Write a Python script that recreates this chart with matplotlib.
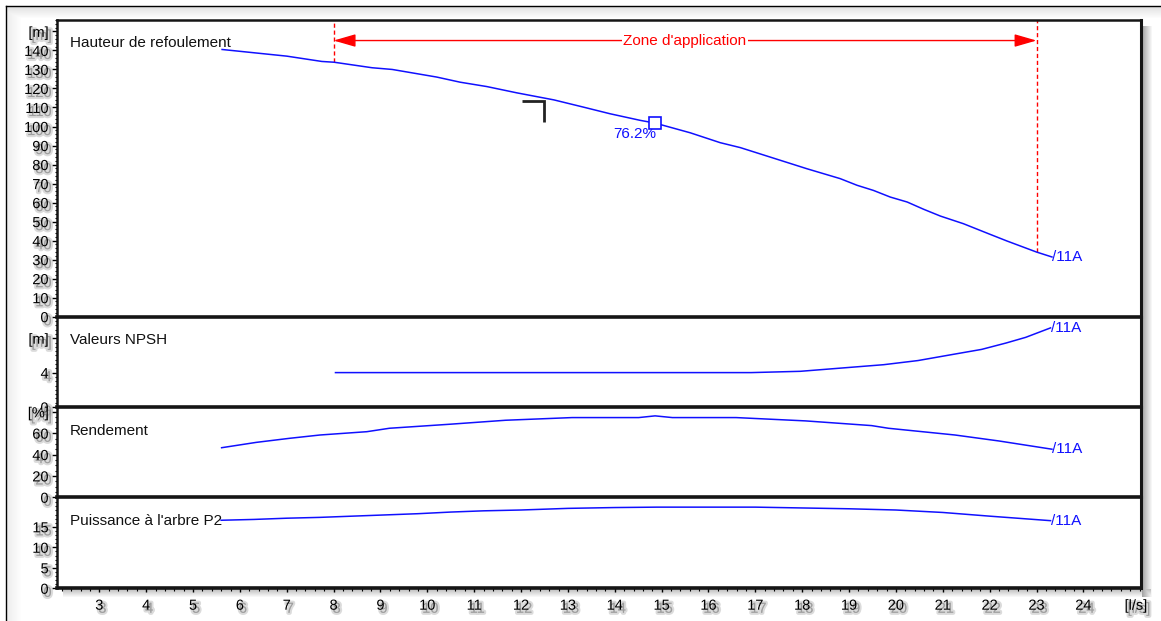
import numpy as np
import matplotlib
matplotlib.use("Agg")
import matplotlib.pyplot as plt
from matplotlib import patheffects as pe
from matplotlib.ticker import MultipleLocator, FixedLocator

# ---------------- data ----------------
flow_head = [5.62, 6.29, 7.00, 7.75, 8.01, 8.82, 9.25, 10.20, 10.70, 11.27, 11.91, 12.70,
             13.33, 13.90, 14.55, 14.86, 15.61, 16.25, 16.68, 17.32, 18.10, 18.81, 19.17,
             19.52, 19.88, 20.24, 20.59, 20.95, 21.44, 22.01, 22.37, 23.00, 23.33]
head = [140.5, 138.8, 137.0, 134.2, 133.8, 130.9, 130.0, 126.0, 123.3, 121.0, 117.7, 114.0,
        110.2, 106.7, 103.2, 101.8, 96.7, 91.5, 88.9, 83.9, 77.8, 72.6, 69.1,
        66.4, 62.9, 60.3, 56.5, 52.9, 48.9, 43.3, 39.8, 34.0, 31.4]

flow_npsh = [8.04, 16.91, 17.96, 19.74, 20.47, 21.20, 21.83, 22.35, 22.77, 23.30]
npsh = [4.0, 4.0, 4.15, 4.92, 5.4, 6.1, 6.7, 7.44, 8.1, 9.2]

flow_eta = [5.61, 6.35, 7.06, 7.71, 8.71, 9.19, 10.49, 11.67, 13.09, 14.51, 14.86, 15.23,
            16.59, 18.07, 19.48, 19.84, 20.90, 21.26, 22.20, 23.33]
eta = [46.4, 51.4, 55.2, 58.3, 61.4, 64.6, 68.4, 72.1, 74.6, 74.6, 76.2, 74.6,
       74.6, 71.5, 67.1, 64.6, 59.9, 58.3, 52.7, 45.0]

flow_p2 = [5.6, 6.3, 7.0, 7.7, 8.4, 9.1, 9.8, 10.5, 11.2, 12.0, 13.0, 14.0, 14.9, 16.0,
           17.0, 18.0, 19.0, 20.0, 21.0, 22.0, 23.3]
p2 = [16.6, 16.8, 17.1, 17.3, 17.6, 17.9, 18.2, 18.6, 18.9, 19.1, 19.5, 19.7, 19.8, 19.8,
      19.8, 19.6, 19.4, 19.1, 18.5, 17.6, 16.5]

zone_start, zone_end = 8.0, 23.0
zone_label = "Zone d'application"
zone_arrow_head = 145.2
bep_flow, bep_head, bep_eta = 14.86, 101.8, 76.2
duty_x = [12.03, 12.5, 12.5]
duty_y = [113.2, 113.2, 102.2]
curve_name = "/11A"

x_ticks = list(range(3, 25))
panel_titles = ["Hauteur de refoulement", "Valeurs NPSH", "Rendement", "Puissance à l'arbre P2"]
head_ticks = list(range(0, 160, 10))
head_labels = [str(v) for v in range(0, 150, 10)] + ["[m]"]
npsh_ticks = [0, 4, 8]
npsh_labels = ["0", "4", "[m]"]
eta_ticks = [0, 20, 40, 60, 80]
eta_labels = ["0", "20", "40", "60", "[%]"]
p2_ticks = [0, 5, 10, 15]
p2_labels = ["0", "5", "10", "15"]

# ---------------- figure ----------------
W, H = 1161, 621
plt.rcParams['font.family'] = ['Liberation Sans', 'DejaVu Sans']
fig = plt.figure(figsize=(W / 100, H / 100), dpi=100)

# background with bevel and drop shadow
bg = fig.add_axes([0, 0, 1, 1], zorder=-10)
bg.axis('off')
yy, xx = np.mgrid[0:H, 0:W]
top = np.clip(1 - (yy - 7) / 11.0, 0, 1)
left = np.clip(1 - (xx - 7) / 14.0, 0, 1) * 0.6
shade = np.maximum(top, left) * 0.11
rs = np.clip(1 - (xx - 1142) / 10.0, 0, 1) * ((xx >= 1142) & (yy >= 26) & (yy <= 596)) * 0.35
bs = np.clip(1 - (yy - 589) / 8.0, 0, 1) * ((yy >= 589) & (xx >= 63) & (xx <= 1150)) * 0.25
shade = np.maximum(shade, np.maximum(rs, bs))
img = 1 - shade
img[(yy < 7) | (xx < 7)] = 1
bg.imshow(np.dstack([img] * 3), extent=(0, W, H, 0), aspect='auto', interpolation='bilinear')
bg.set_xlim(0, W)
bg.set_ylim(H, 0)
bg.plot([6, W], [6, 6], color='black', lw=1.0)
bg.plot([6, 6], [6, H], color='black', lw=1.0)


def rect(x0, y0, x1, y1):
    return [x0 / W, 1 - y1 / H, (x1 - x0) / W, (y1 - y0) / H]


axH = fig.add_axes(rect(57, 20, 1141, 316.7))
axN = fig.add_axes(rect(57, 316.7, 1141, 407), sharex=axH)
axE = fig.add_axes(rect(57, 407, 1141, 497.3), sharex=axH)
axP = fig.add_axes(rect(57, 497.3, 1141, 588.3), sharex=axH)
axes = [axH, axN, axE, axP]
for ax in axes:
    ax.set_facecolor('none')

blue = '#1010ff'
red = '#ff0000'
shadow_fx = [pe.Stroke(offset=(2.2, -2.2), linewidth=3.0, foreground='#b8b8b8', alpha=0.5),
             pe.SimplePatchShadow(offset=(2.2, -2.2), shadow_rgbFace='#a0a0a0', alpha=0.5),
             pe.Normal()]

axH.set_xlim(2.097, 25.23)
axH.set_ylim(0, 156)
axN.set_ylim(0, 10.5)
axE.set_ylim(0, 84.5)
axP.set_ylim(0, 22.2)

settings = [(axH, head_ticks, head_labels, 2),
            (axN, npsh_ticks, npsh_labels, 0.5),
            (axE, eta_ticks, eta_labels, 5),
            (axP, p2_ticks, p2_labels, 1)]
for ax, tks, lbls, minor in settings:
    ax.yaxis.set_major_locator(FixedLocator(tks))
    ax.set_yticklabels(lbls)
    ax.yaxis.set_minor_locator(MultipleLocator(minor))
    ax.tick_params(axis='y', which='major', direction='out', length=3.5, width=1.0,
                   pad=2.5, labelsize=10.5)
    ax.tick_params(axis='y', which='minor', direction='out', length=1.8, width=0.8)
    for sp in ax.spines.values():
        sp.set_color('#151515')
    ax.spines['left'].set_linewidth(1.8)
    ax.spines['right'].set_linewidth(2.2)
    ax.spines['top'].set_linewidth(1.8)
    ax.spines['bottom'].set_linewidth(2.6)
    for lbl in ax.get_yticklabels():
        lbl.set_path_effects(shadow_fx)

for ax in [axH, axN, axE]:
    ax.tick_params(axis='x', which='both', length=0, labelbottom=False)
for ax in [axN, axE, axP]:
    ax.spines['top'].set_visible(False)

axP.xaxis.set_major_locator(FixedLocator(x_ticks))
axP.xaxis.set_minor_locator(MultipleLocator(0.2))
axP.tick_params(axis='x', which='major', direction='out', length=3, width=1.0, pad=4.5,
                labelsize=10.5)
axP.tick_params(axis='x', which='minor', direction='out', length=1.8, width=0.8)
for lbl in axP.get_xticklabels():
    lbl.set_path_effects(shadow_fx)
axP.annotate('[l/s]', xy=(0.9954, 0), xycoords='axes fraction', xytext=(0, -7.5),
             textcoords='offset points', ha='center', va='top', fontsize=10.5,
             path_effects=shadow_fx)

# curves
axH.plot(flow_head, head, color=blue, lw=1.1, zorder=3)
axN.plot(flow_npsh, npsh, color=blue, lw=1.1, zorder=3)
axE.plot(flow_eta, eta, color=blue, lw=1.1, zorder=3)
axP.plot(flow_p2, p2, color=blue, lw=1.1, zorder=3)

for ax, fx, fy in [(axH, flow_head, head), (axN, flow_npsh, npsh),
                   (axE, flow_eta, eta), (axP, flow_p2, p2)]:
    ax.text(fx[-1], fy[-1], curve_name, color=blue, fontsize=11, ha='left', va='center',
            zorder=4)

# panel titles
title_y = [0.922, 0.742, 0.734, 0.74]
for ax, t, ty in zip(axes, panel_titles, title_y):
    ax.text(0.012, ty, t, transform=ax.transAxes, fontsize=11, ha='left', va='center',
            color='#111111', zorder=2)

# zone d'application
ytop = axH.get_ylim()[1]
for zx in (zone_start, zone_end):
    hz = np.interp(zx, flow_head, head)
    axH.plot([zx, zx], [hz, ytop], color=red, lw=1.0, ls=(0, (3, 2)), zorder=2)
axH.annotate('', xy=(zone_start, zone_arrow_head), xytext=(zone_end, zone_arrow_head),
             arrowprops=dict(arrowstyle='<|-|>,head_length=0.45,head_width=0.13',
                             mutation_scale=30, color=red, lw=1.0,
                             shrinkA=0, shrinkB=0), zorder=3)
axH.text((zone_start + zone_end) / 2, zone_arrow_head, zone_label, color=red, fontsize=11,
         ha='center', va='center', zorder=4,
         bbox=dict(facecolor='white', edgecolor='none', pad=1.0))

# best efficiency point
axH.plot([bep_flow], [bep_head], marker='s', ms=8, mfc='white', mec=blue, mew=1.2,
         zorder=5, ls='none')
axH.annotate(f"{bep_eta:.1f}%", xy=(bep_flow, bep_head), xytext=(1, -11),
             textcoords='offset points', ha='right', va='baseline', color=blue,
             fontsize=11, zorder=4)

# duty point corner
axH.plot(duty_x, duty_y, color='#222222', lw=2.0, solid_capstyle='butt',
         solid_joinstyle='miter', zorder=4)

fig.savefig('out.png', dpi=100)
